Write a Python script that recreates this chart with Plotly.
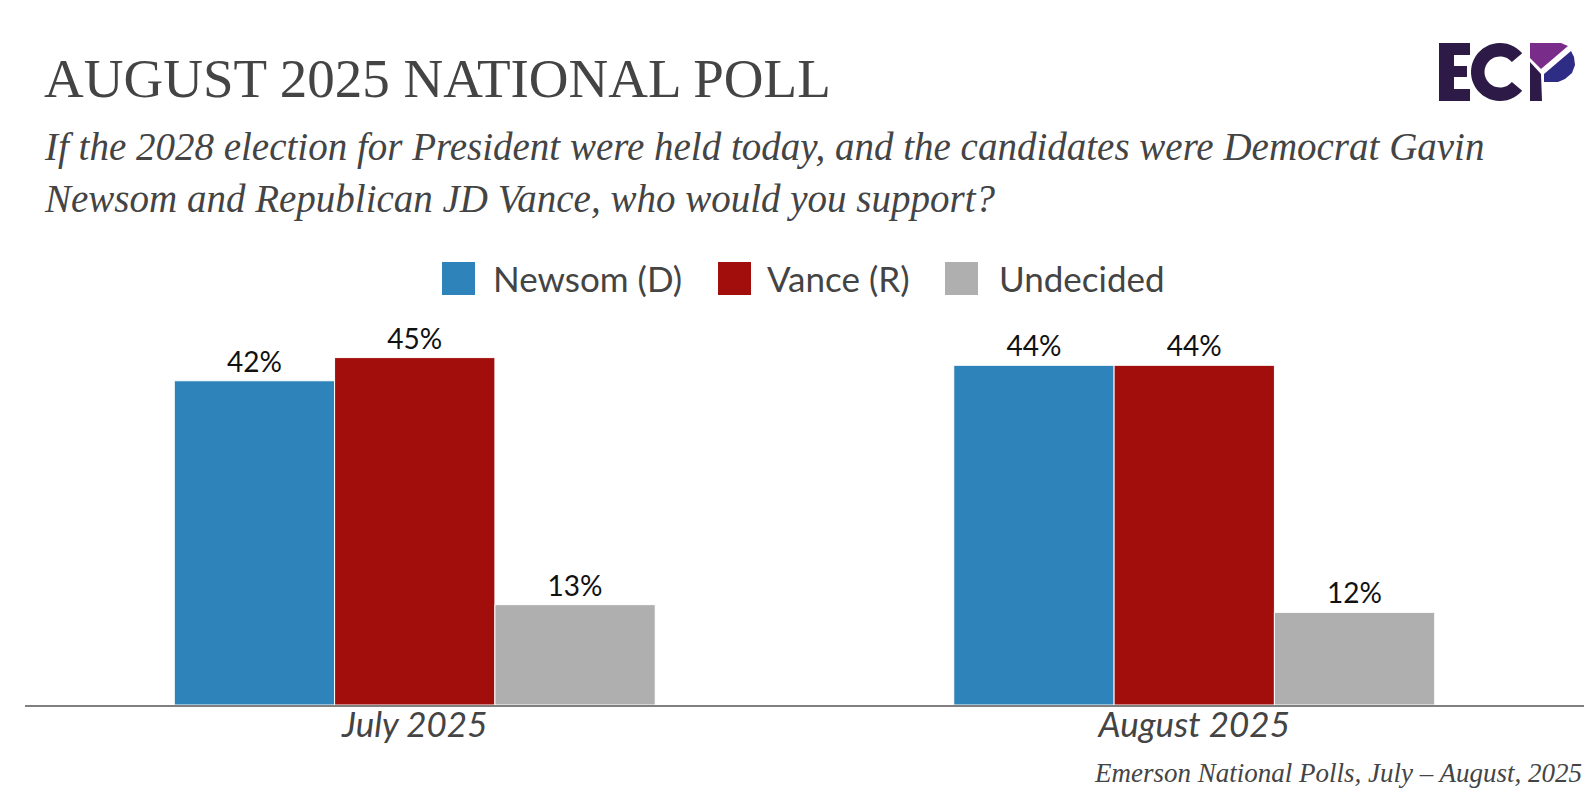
import numpy as np
import plotly.graph_objects as go

categories = ["July 2025", "August 2025"]
series_names = ["Newsom (D)", "Vance (R)", "Undecided"]
newsom = [42, 44]
vance = [45, 44]
undecided = [13, 12]
series_values = [newsom, vance, undecided]
colors = ["#2e83ba", "#a10e0b", "#afafaf"]

title_text = "AUGUST 2025 NATIONAL POLL"
subtitle_lines = [
    "If the 2028 election for President were held today, and the candidates were Democrat Gavin",
    "Newsom and Republican JD Vance, who would you support?",
]
footer_text = "Emerson National Polls, July \u2013 August, 2025"

W, H = 1596, 793
L, R, T, B = 17, 20, 311, 96
PW, PH = W - L - R, H - T - B


def X(px):
    return (px - L) / PW


def Y(py):
    return (H - B - py) / PH


fig = go.Figure()
for name, vals, col in zip(series_names, series_values, colors):
    fig.add_trace(go.Bar(
        name=name, x=categories, y=vals,
        marker=dict(color=col, line=dict(color="white", width=1)),
        text=[f"{v}%" for v in vals], textposition="outside",
        textfont=dict(family="Lato", size=28, color="#111111"),
        cliponaxis=False, showlegend=False,
    ))

annotations = []
shapes = []

# title / subtitle / footer
annotations.append(dict(text=title_text, x=X(34), y=Y(70), xref="paper", yref="paper",
                        xanchor="left", yanchor="middle", showarrow=False,
                        font=dict(family="Liberation Serif", size=55, color="#444444")))
for i, line in enumerate(subtitle_lines):
    annotations.append(dict(text=line, x=X(34), y=Y(139 + 52 * i), xref="paper", yref="paper",
                            xanchor="left", yanchor="middle", showarrow=False,
                            font=dict(family="Liberation Serif", size=39, color="#444444", style="italic")))
annotations.append(dict(text=footer_text, x=X(1576), y=Y(765), xref="paper", yref="paper",
                        xanchor="right", yanchor="middle", showarrow=False,
                        font=dict(family="Liberation Serif", size=27, color="#444444", style="italic")))

# manual legend
leg_sq = [434, 710, 937]
leg_tx = [483, 757, 989]
for name, col, sx, tx in zip(series_names, colors, leg_sq, leg_tx):
    shapes.append(dict(type="rect", xref="paper", yref="paper",
                       x0=X(sx), x1=X(sx + 33), y0=Y(287), y1=Y(254),
                       fillcolor=col, line=dict(width=0)))
    annotations.append(dict(text=name, x=X(tx), y=Y(270), xref="paper", yref="paper",
                            xanchor="left", yanchor="middle", showarrow=False,
                            font=dict(family="Lato", size=35, color="#444444")))


# logo (decorative)
def poly(pts):
    return "M" + " L".join(f"{X(a):.5f},{Y(b):.5f}" for a, b in pts) + " Z"


dark = "#2d1a46"
# E
shapes.append(dict(type="path", xref="paper", yref="paper", line=dict(width=0), fillcolor=dark,
                   path=poly([(1431, 35), (1462, 35), (1462, 47), (1446, 47), (1446, 58), (1459, 58),
                              (1459, 69), (1446, 69), (1446, 81), (1462, 81), (1462, 93), (1431, 93)])))
# C
cx, cy, ro, ri = 1492, 64, 29, 15.5
ang = np.linspace(np.radians(40), np.radians(320), 40)
outer = [(cx + ro * np.cos(a), cy - ro * np.sin(a)) for a in ang]
inner = [(cx + ri * np.cos(a), cy - ri * np.sin(a)) for a in ang[::-1]]
shapes.append(dict(type="path", xref="paper", yref="paper", line=dict(width=0), fillcolor=dark,
                   path=poly(outer + inner)))
# P stem
shapes.append(dict(type="path", xref="paper", yref="paper", line=dict(width=0), fillcolor=dark,
                   path=poly([(1522, 54), (1533, 66), (1534, 93), (1522, 93)])))
# P purple top
shapes.append(dict(type="path", xref="paper", yref="paper", line=dict(width=0), fillcolor="#7a2c8a",
                   path=poly([(1522, 35), (1553, 35), (1560, 38), (1533, 61), (1522, 50)])))
# P blue bowl
shapes.append(dict(type="path", xref="paper", yref="paper", line=dict(width=0), fillcolor="#2e2c84",
                   path=poly([(1536, 66), (1563, 43), (1566, 49), (1567, 57), (1564, 65),
                              (1557, 71), (1550, 74), (1536, 74)])))

fig.update_layout(
    width=W, height=H,
    margin=dict(l=L, r=R, t=T, b=B),
    paper_bgcolor="white", plot_bgcolor="white",
    barmode="group", bargap=0.383, bargroupgap=0.0,
    showlegend=False,
    annotations=annotations, shapes=shapes,
    xaxis=dict(showline=True, linecolor="#808080", linewidth=1.5, ticks="",
               showgrid=False, zeroline=False, ticklabelstandoff=-12,
               tickfont=dict(family="Lato", size=35, color="#444444", style="italic")),
    yaxis=dict(visible=False, range=[0, 50], showgrid=False, zeroline=False),
)

fig.write_html("out.html")
